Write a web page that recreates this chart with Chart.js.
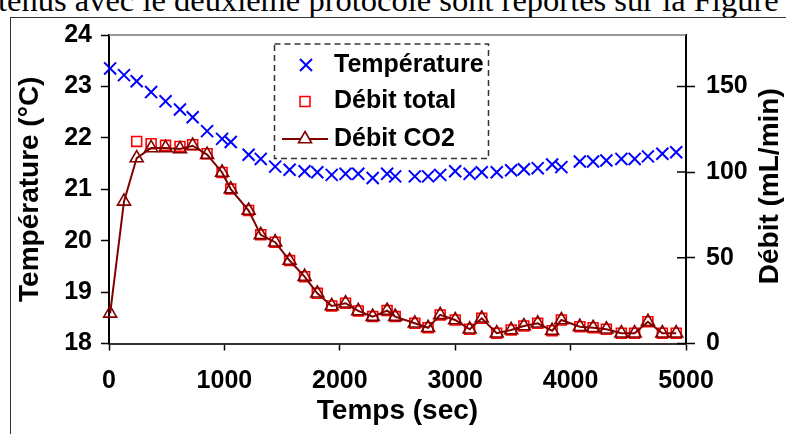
<!DOCTYPE html>
<html><head><meta charset="utf-8">
<script src="https://cdn.jsdelivr.net/npm/chart.js@4/dist/chart.umd.min.js"></script>
<style>
html,body{margin:0;padding:0;background:#fff;}
#wrap{position:relative;width:786px;height:434px;overflow:hidden;background:#fff;}
#doc{position:absolute;left:-2px;top:-16px;font-family:"Liberation Serif","Times New Roman",serif;font-size:32.5px;line-height:1;white-space:nowrap;color:#000;}
#frame{position:absolute;left:10px;top:17px;width:800px;height:440px;border-left:1.5px solid #333;border-top:1.5px solid #333;}
#c{position:absolute;left:0;top:0;}
</style></head>
<body><div id="wrap"><div id="doc">tenus avec le deuxième protocole sont reportés sur la Figure</div><div id="frame"></div><canvas id="c" width="786" height="434"></canvas></div>
<script>
const times = [10,130,240,365,490,615,725,850,980,1055,1210,1315,1440,1565,1695,1805,1930,2050,2160,2285,2410,2480,2650,2765,2870,3000,3125,3230,3360,3485,3595,3715,3840,3920,4080,4195,4310,4440,4555,4670,4795,4915];
const temperature = [23.35,23.22,23.10,22.89,22.71,22.55,22.40,22.13,21.98,21.92,21.67,21.59,21.44,21.38,21.35,21.33,21.28,21.30,21.30,21.22,21.30,21.25,21.25,21.25,21.28,21.35,21.30,21.33,21.33,21.37,21.39,21.41,21.48,21.43,21.54,21.54,21.56,21.59,21.59,21.64,21.69,21.72];
const debitTotal = [null,null,117.9,116.6,115.6,115.0,116.0,110.7,99.8,90.1,77.6,63.4,59.1,48.4,39.0,29.3,21.9,23.5,19.0,15.7,19.2,15.7,11.8,9.2,16.7,13.7,8.3,14.7,6.0,7.9,10.2,11.8,7.5,13.7,9.8,9.2,8.3,6.0,6.0,12.7,6.0,6.0];
const debitCO2 = [17.6,82.9,108.2,114.1,114.1,113.5,115.4,110.2,99.8,90.1,77.6,63.4,59.1,48.4,39.0,29.3,21.9,23.5,19.0,15.7,19.2,15.7,11.8,9.2,16.7,13.7,8.3,14.7,6.0,7.9,10.2,11.8,7.5,13.7,9.8,9.2,8.3,6.0,6.0,12.7,6.0,6.0];
const xTicks = [0,1000,2000,3000,4000,5000];
const tempTicks = [18,19,20,21,22,23,24];
const debitTicks = [0,50,100,150];
const seriesNames = ['Température','Débit total','Débit CO2'];
const axisTitles = {x:'Temps (sec)', y:'Température (°C)', y1:'Débit (mL/min)'};

const FONT = "'Liberation Sans', Arial, sans-serif";
const pts = arr => times.map((t,i)=>({x:t,y:arr[i]}));

const decor = {
  id:'decor',
  afterDraw(chart){
    const {ctx, chartArea:a, scales} = chart;
    ctx.save();
    ctx.strokeStyle='#777'; ctx.lineWidth=1.5;
    ctx.beginPath(); ctx.moveTo(a.left,a.top); ctx.lineTo(a.right,a.top); ctx.stroke();
    ctx.strokeStyle='#000'; ctx.lineWidth=1.5;
    ctx.beginPath();
    scales.y1.ticks.forEach(t=>{const y=scales.y1.getPixelForValue(t.value); ctx.moveTo(a.right-9,y); ctx.lineTo(a.right,y);});
    ctx.stroke();
    // right title
    ctx.save();
    ctx.translate(770,(a.top+a.bottom)/2 - 3); ctx.rotate(-Math.PI/2);
    ctx.fillStyle='#000'; ctx.font='bold 28px '+FONT; ctx.textAlign='center'; ctx.textBaseline='middle';
    ctx.fillText(axisTitles.y1,0,0);
    ctx.restore();
    // legend
    const L=274.5,T=44,R=488.5,B=158.5;
    ctx.fillStyle='#fff'; ctx.fillRect(L,T,R-L,B-T);
    ctx.setLineDash([6,4]); ctx.strokeStyle='#333'; ctx.lineWidth=1.5;
    ctx.strokeRect(L,T,R-L,B-T);
    ctx.setLineDash([]);
    const ds = chart.data.datasets;
    const rows=[65,101.5,139];
    ctx.strokeStyle=ds[0].pointBorderColor; ctx.lineWidth=ds[0].pointBorderWidth;
    Chart.helpers.drawPoint(ctx,{pointStyle:'crossRot',radius:ds[0].pointRadius,borderWidth:ds[0].pointBorderWidth},306,rows[0]);
    ctx.strokeStyle=ds[1].pointBorderColor; ctx.fillStyle='#fff'; ctx.lineWidth=ds[1].pointBorderWidth;
    Chart.helpers.drawPoint(ctx,{pointStyle:'rect',radius:ds[1].pointRadius,borderWidth:ds[1].pointBorderWidth},305,rows[1]);
    ctx.strokeStyle=ds[2].borderColor; ctx.lineWidth=ds[2].borderWidth;
    ctx.beginPath(); ctx.moveTo(282,rows[2]); ctx.lineTo(328,rows[2]); ctx.stroke();
    ctx.fillStyle='#fff'; ctx.lineWidth=ds[2].pointBorderWidth;
    Chart.helpers.drawPoint(ctx,{pointStyle:'triangle',radius:ds[2].pointRadius,borderWidth:ds[2].pointBorderWidth},305,rows[2]);
    ctx.fillStyle='#000'; ctx.font='bold 25px '+FONT; ctx.textAlign='left'; ctx.textBaseline='middle';
    seriesNames.forEach((n,i)=>ctx.fillText(n,334,rows[i]));
    ctx.restore();
  }
};

const tickFont = {family:FONT, size:25, weight:'bold'};
const titleFont = {family:FONT, size:28, weight:'bold'};
const plain = v => String(v);

new Chart(document.getElementById('c'),{
  type:'scatter',
  data:{datasets:[
    {label:seriesNames[0], data:pts(temperature), yAxisID:'y', showLine:false, pointStyle:'crossRot', pointRadius:8.5, pointHoverRadius:8.5, pointBorderColor:'#0000ff', pointBorderWidth:2, borderColor:'#0000ff', order:0},
    {label:seriesNames[1], data:pts(debitTotal), yAxisID:'y1', showLine:false, pointStyle:'rect', pointRadius:7, pointHoverRadius:7, pointBorderColor:'#ff0000', pointBackgroundColor:'rgba(0,0,0,0)', pointBorderWidth:1.6, borderColor:'#ff0000', order:2},
    {label:seriesNames[2], data:pts(debitCO2), yAxisID:'y1', showLine:true, tension:0, borderColor:'#800000', borderWidth:2, pointStyle:'triangle', pointRadius:7.5, pointHoverRadius:7.5, pointBorderColor:'#800000', pointBackgroundColor:'rgba(0,0,0,0)', pointBorderWidth:1.6, order:1}
  ]},
  options:{
    responsive:false, animation:false, devicePixelRatio:1,
    layout:{padding:{top:35,left:0,right:0,bottom:0}},
    plugins:{legend:{display:false}, tooltip:{enabled:false}},
    elements:{point:{hitRadius:0}},
    datasets:{scatter:{clip:false}},
    scales:{
      x:{type:'linear', min:0, max:5000,
        afterBuildTicks:s=>{s.ticks=xTicks.map(v=>({value:v}));},
        ticks:{font:tickFont, color:'#000', padding:16, maxRotation:0, callback:plain},
        grid:{drawOnChartArea:false, tickLength:7, color:'#000', tickWidth:1.5},
        border:{color:'#333', width:2},
        title:{display:true, text:axisTitles.x, font:titleFont, color:'#000', padding:{top:0,bottom:6}},
        afterFit:s=>{s.height=90.5;}
      },
      y:{type:'linear', position:'left', min:18, max:24,
        afterBuildTicks:s=>{s.ticks=tempTicks.map(v=>({value:v}));},
        ticks:{font:tickFont, color:'#000', padding:9, callback:plain},
        grid:{drawOnChartArea:false, tickLength:8, color:'#000', tickWidth:1.5},
        border:{color:'#000', width:2},
        title:{display:true, text:axisTitles.y, font:titleFont, color:'#000', padding:{top:13,bottom:0}},
        afterFit:s=>{s.width=109;}
      },
      y1:{type:'linear', position:'right', min:0, max:180,
        afterBuildTicks:s=>{s.ticks=debitTicks.map(v=>({value:v}));},
        ticks:{font:tickFont, color:'#000', padding:11, callback:plain},
        grid:{drawOnChartArea:false, tickLength:9, color:'#000', tickWidth:1.5},
        border:{color:'#000', width:2},
        title:{display:false},
        afterFit:s=>{s.width=100;}
      }
    }
  },
  plugins:[decor]
});
</script>
</body></html>
